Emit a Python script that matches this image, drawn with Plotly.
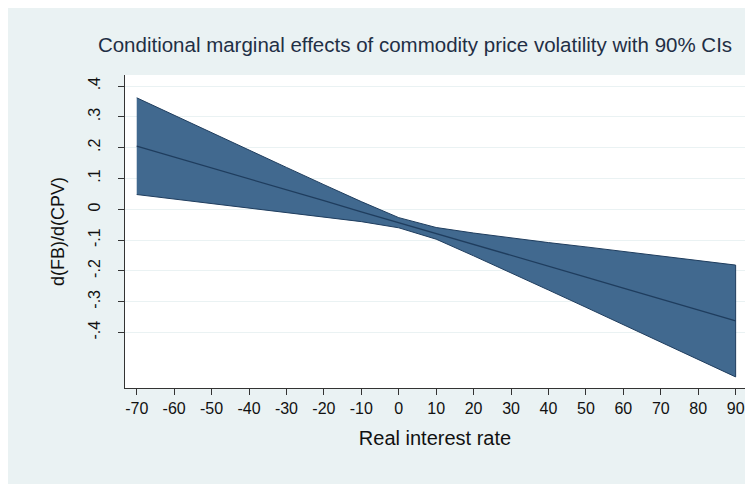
import plotly.graph_objects as go

# Data
rate = [-70, -60, -50, -40, -30, -20, -10, 0, 10, 20, 30, 40, 50, 60, 70, 80, 90]
effect = [0.205, 0.170, 0.134, 0.099, 0.063, 0.028, -0.008, -0.043, -0.078, -0.114,
          -0.149, -0.185, -0.220, -0.256, -0.291, -0.327, -0.362]
upper = [0.362, 0.305, 0.249, 0.193, 0.136, 0.080, 0.025, -0.027, -0.059, -0.077,
         -0.093, -0.108, -0.122, -0.137, -0.151, -0.166, -0.181]
lower = [0.048, 0.034, 0.019, 0.005, -0.010, -0.025, -0.040, -0.060, -0.097, -0.151,
         -0.206, -0.262, -0.318, -0.375, -0.431, -0.487, -0.544]

ytick_vals = [-0.4, -0.3, -0.2, -0.1, 0, 0.1, 0.2, 0.3, 0.4]
ytick_text = ["-.4", "-.3", "-.2", "-.1", "0", ".1", ".2", ".3", ".4"]
xtick_vals = [-70, -60, -50, -40, -30, -20, -10, 0, 10, 20, 30, 40, 50, 60, 70, 80, 90]
xtick_text = ["-70", "-60", "-50", "-40", "-30", "-20", "-10", "0", "10", "20",
              "30", "40", "50", "60", "70", "80", "90"]

title_text = "Conditional marginal effects of commodity price volatility with 90% CIs"

FILL = "#41698f"
LINE = "#1f3d5e"
BG = "#eaf2f3"
FONT = "Liberation Sans, Arial, sans-serif"

fig = go.Figure()
fig.add_trace(go.Scatter(
    x=rate + rate[::-1], y=upper + lower[::-1],
    fill="toself", fillcolor=FILL, mode="lines",
    line=dict(color=LINE, width=1), hoverinfo="skip", showlegend=False))
fig.add_trace(go.Scatter(
    x=rate, y=effect, mode="lines",
    line=dict(color=LINE, width=1.3), showlegend=False))

# the page places the figure 8px from the top-left corner
W, H = 745, 476
L, R, T, B = 117, 8, 67, 96

fig.update_layout(
    width=W, height=H,
    margin=dict(l=L, r=R, t=T, b=B),
    paper_bgcolor=BG, plot_bgcolor="white",
    font=dict(family=FONT, color="#111111"),
    title=dict(text=title_text, x=407 / W, xref="container", xanchor="center",
               y=1 - 37 / H, yref="container", yanchor="middle",
               font=dict(size=20.5, color="#1f2f45", family=FONT)),
)

fig.update_xaxes(
    range=[-73.13, 92.5], tickvals=xtick_vals, ticktext=xtick_text,
    ticks="outside", ticklen=6, tickcolor="#333333", tickwidth=1,
    showline=True, linecolor="#333333", linewidth=1,
    showgrid=False, zeroline=False,
    tickfont=dict(size=16, family=FONT, color="#111111"),
    title=dict(text="Real interest rate", font=dict(size=20, family=FONT, color="#111111"),
               standoff=14),
)
fig.update_yaxes(
    range=[-0.58, 0.436], tickvals=ytick_vals, ticktext=ytick_text,
    tickangle=-90, ticklabelstandoff=12,
    ticks="outside", ticklen=6, tickcolor="#333333", tickwidth=1,
    showline=True, linecolor="#333333", linewidth=1,
    showgrid=True, gridcolor="#eaf2f3", gridwidth=1, zeroline=False,
    tickfont=dict(size=16, family=FONT, color="#111111"),
    title=dict(text="d(FB)/d(CPV)", font=dict(size=18, family=FONT, color="#111111"),
               standoff=16),
)

fig.write_html("out.html")
